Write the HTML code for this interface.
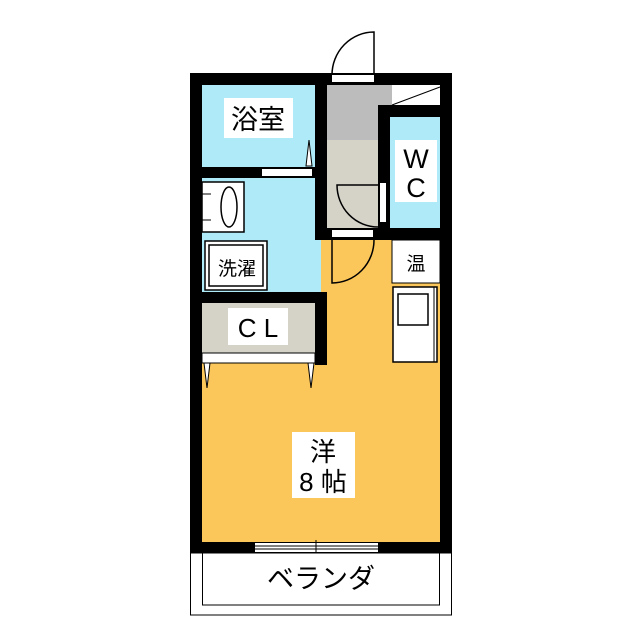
<!DOCTYPE html>
<html><head><meta charset="utf-8"><style>
html,body{margin:0;padding:0;background:#fff}
svg{display:block}
text{font-family:"Liberation Sans","Noto Sans CJK JP",sans-serif;fill:#000}
</style></head><body>
<svg width="640" height="640" viewBox="0 0 640 640" xmlns="http://www.w3.org/2000/svg">
<rect x="202" y="240" width="238" height="302" fill="#fcc75a"/>
<rect x="202" y="85" width="113" height="82" fill="#aeeaf7"/>
<rect x="202" y="178" width="119" height="114" fill="#aeeaf7"/>
<rect x="327" y="85" width="65" height="55" fill="#bcbcbc"/>
<rect x="327" y="140" width="51" height="88" fill="#d5d2c8"/>
<rect x="390" y="117" width="50" height="111" fill="#aeeaf7"/>
<rect x="202" y="303" width="113" height="50" fill="#d5d2c8"/>
<rect x="202" y="353" width="113" height="10" fill="#fff" stroke="#000" stroke-width="1"/>
<g fill="#000">
<rect x="190" y="73" width="12" height="480"/>
<rect x="440" y="73" width="12" height="480"/>
<rect x="190" y="73" width="262" height="12"/>
<rect x="190" y="542" width="262" height="11"/>
<rect x="202" y="167" width="125" height="11"/>
<rect x="315" y="73" width="12" height="167"/>
<rect x="315" y="228" width="137" height="12"/>
<rect x="378" y="105" width="74" height="12"/>
<rect x="378" y="105" width="12" height="135"/>
<rect x="202" y="292" width="125" height="11"/>
<rect x="315" y="292" width="12" height="73"/>
</g>
<rect x="262" y="169" width="50" height="7" fill="#fff"/>
<rect x="332" y="75" width="42" height="7" fill="#fff"/>
<rect x="332" y="230" width="41" height="7" fill="#fff"/>
<rect x="380" y="183" width="6" height="39" fill="#fff"/>
<rect x="392" y="85" width="48" height="20" fill="#fff"/>
<line x1="392" y1="105" x2="440" y2="87" stroke="#000" stroke-width="1"/>
<rect x="255" y="543" width="123" height="9" fill="#fff"/>
<line x1="255" y1="546" x2="378" y2="546" stroke="#000"/>
<line x1="255" y1="549" x2="378" y2="549" stroke="#000"/>
<line x1="316" y1="540" x2="316" y2="555" stroke="#000"/>
<path d="M374 75 L374 32 A42 43 0 0 0 332 75" fill="none" stroke="#000" stroke-width="1.5"/>
<path d="M378 185 L337 185 A41 42 0 0 0 378 227" fill="none" stroke="#000" stroke-width="1.5"/>
<path d="M332 240 L332 283 A42 43 0 0 0 374 240" fill="none" stroke="#000" stroke-width="1.5"/>
<polygon points="309,140 312,166 306,166" fill="#fff" stroke="#000"/>
<polygon points="204,363 210,363 207,388" fill="#fff" stroke="#000"/>
<polygon points="308,363 314,363 311,388" fill="#fff" stroke="#000"/>
<rect x="202" y="182" width="42" height="50" fill="#fff" stroke="#000" stroke-width="1.5"/>
<ellipse cx="229" cy="207" rx="8" ry="20" fill="none" stroke="#000" stroke-width="1.5"/>
<line x1="202" y1="194" x2="211" y2="194" stroke="#000"/>
<line x1="202" y1="220" x2="211" y2="220" stroke="#000"/>
<rect x="205" y="241" width="62" height="49" fill="#fff" stroke="#000" stroke-width="1.5"/>
<rect x="209" y="245" width="54" height="41" fill="#fff" stroke="#000" stroke-width="1.5"/>
<rect x="392" y="240" width="48" height="43" fill="#fff" stroke="#000" stroke-width="1"/>
<rect x="393" y="287" width="44" height="75" fill="#fff" stroke="#000" stroke-width="1.5"/>
<rect x="398" y="294" width="30" height="31" fill="#fff" stroke="#000" stroke-width="1.5"/>
<line x1="434" y1="287" x2="434" y2="362" stroke="#000"/>
<rect x="190.5" y="553" width="261" height="62" fill="#fff" stroke="#000" stroke-width="1"/>
<rect x="202.5" y="553" width="237" height="52" fill="none" stroke="#000" stroke-width="1"/>
<rect x="224" y="98" width="69" height="40" fill="#fff"/>
<text x="258" y="129" font-size="27" text-anchor="middle">浴室</text>
<rect x="395" y="140" width="42" height="62" fill="#fff"/>
<text x="416" y="168" font-size="27" text-anchor="middle">W</text>
<text x="416" y="197" font-size="27" text-anchor="middle">C</text>
<text x="237" y="275" font-size="19" text-anchor="middle">洗濯</text>
<text x="416" y="270" font-size="19" text-anchor="middle">温</text>
<rect x="228" y="308" width="60" height="37" fill="#fff"/>
<text x="258" y="337" font-size="26" text-anchor="middle">C L</text>
<rect x="292" y="432" width="63" height="66" fill="#fff"/>
<text x="323" y="461" font-size="26" text-anchor="middle">洋</text>
<text x="323" y="491" font-size="26" text-anchor="middle">8 帖</text>
<text x="321" y="588" font-size="27" text-anchor="middle">ベランダ</text>
</svg>
</body></html>
